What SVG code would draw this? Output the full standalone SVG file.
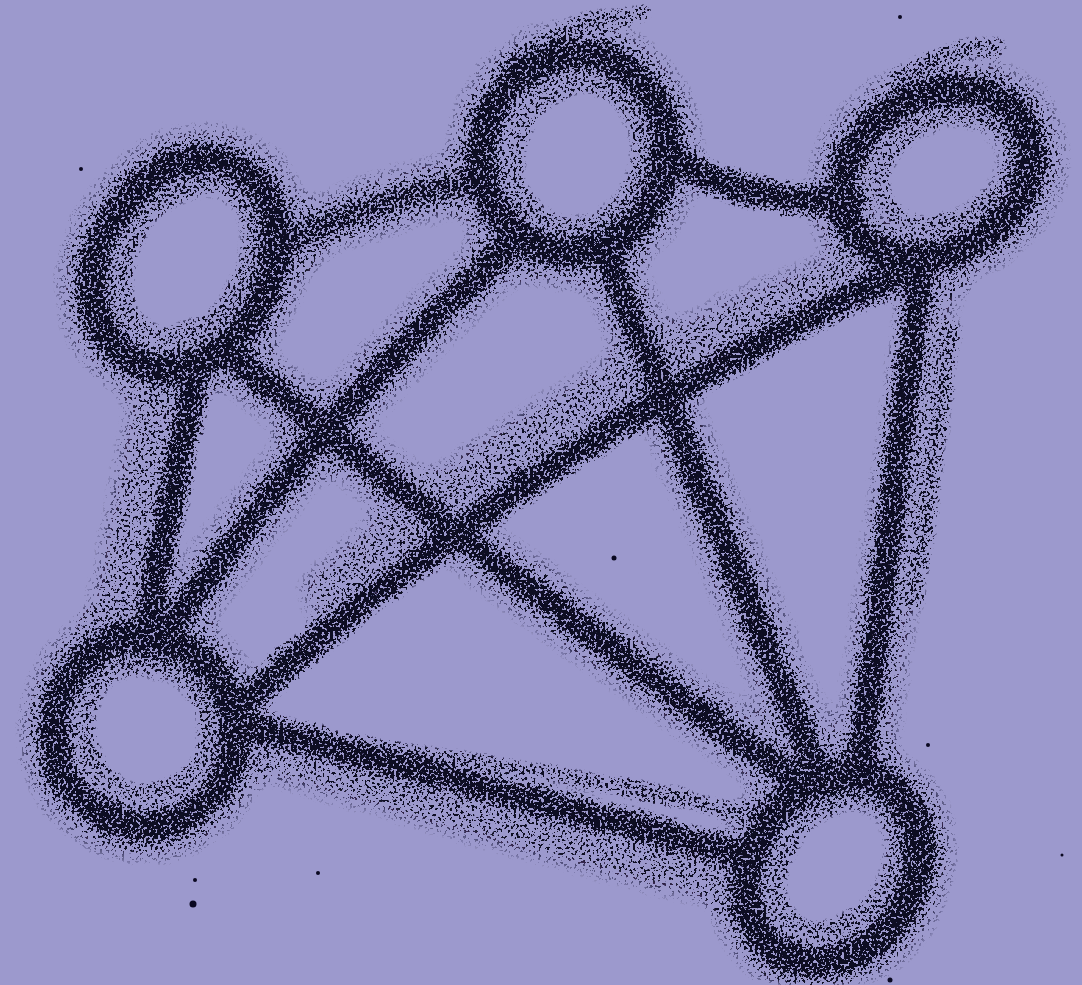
<svg xmlns="http://www.w3.org/2000/svg" xmlns:xlink="http://www.w3.org/1999/xlink" width="1082" height="985" viewBox="0 0 1082 985">
<defs>
<filter id="charcoal" filterUnits="userSpaceOnUse" x="0" y="0" width="1082" height="985">
<feTurbulence type="turbulence" baseFrequency="0.03" numOctaves="2" seed="4" result="warp"/>
<feDisplacementMap in="SourceAlpha" in2="warp" scale="8" xChannelSelector="R" yChannelSelector="G" result="wob"/>
<feGaussianBlur in="wob" stdDeviation="4.5" result="b"/>
<feTurbulence type="fractalNoise" baseFrequency="0.36" numOctaves="2" seed="9" result="n"/>
<feColorMatrix in="n" type="matrix" values="0 0 0 0 0  0 0 0 0 0  0 0 0 0 0  4 0 0 0 -1.5" result="na"/>
<feComposite in="b" in2="na" operator="arithmetic" k1="0" k2="1" k3="-1" k4="0.38" result="d"/>
<feComponentTransfer in="d" result="t"><feFuncA type="linear" slope="8" intercept="-3.5"/></feComponentTransfer>
<feFlood flood-color="#0a0820" result="c"/>
<feComposite in="c" in2="t" operator="in"/>
</filter>
<path id="h12" d="M290,238 Q380,195 478,178"/>
<path id="h14" d="M160,380 L110,640"/>
<path id="h24" d="M515,238 Q300,430 160,640"/>
<path id="h34" d="M880,262 Q560,380 330,590"/>
<path id="h45" d="M260,745 Q500,820 740,880"/>
<path id="h35" d="M930,280 L860,770"/>
<path id="h25" d="M608,262 L815,768"/>
<path id="h15" d="M235,358 Q480,560 800,782"/>
</defs>
<style>
.e{fill:none;stroke:#000;stroke-width:26;stroke-linecap:round}
.g1{fill:none;stroke:#000;stroke-width:28;stroke-linecap:round;opacity:0.1}
.g2{fill:none;stroke:#000;stroke-width:52;stroke-linecap:round;opacity:0.09}
.g3{fill:none;stroke:#000;stroke-width:78;stroke-linecap:round;opacity:0.08}
.r{fill:none;stroke:#000;stroke-width:30}
.r1{fill:none;stroke:#000;stroke-width:50;opacity:0.14}
.r2{fill:none;stroke:#000;stroke-width:80;opacity:0.1}
.ri{fill:none;stroke:#000;stroke-width:10;opacity:0.4}
.t{fill:none;stroke:#000;stroke-width:12;stroke-linecap:round;opacity:0.5}
</style>
<rect width="1082" height="985" fill="#9c99cd"/>
<g filter="url(#charcoal)">
<g id="connectors">
<use xlink:href="#h12" class="g1"/><use xlink:href="#h12" class="g2"/><use xlink:href="#h12" class="g3"/>
<use xlink:href="#h14" class="g1"/><use xlink:href="#h14" class="g2"/><use xlink:href="#h14" class="g3"/>
<use xlink:href="#h24" class="g1"/><use xlink:href="#h24" class="g2"/><use xlink:href="#h24" class="g3"/>
<use xlink:href="#h34" class="g1"/><use xlink:href="#h34" class="g2"/><use xlink:href="#h34" class="g3"/>
<use xlink:href="#h45" class="g1"/><use xlink:href="#h45" class="g2"/><use xlink:href="#h45" class="g3"/>
<use xlink:href="#h35" class="g2"/><use xlink:href="#h35" class="g3"/>
<use xlink:href="#h25" class="g2"/><use xlink:href="#h25" class="g3"/>
<use xlink:href="#h15" class="g2"/><use xlink:href="#h15" class="g3"/>
<path class="t" d="M300,738 Q520,760 745,812"/>
<path class="t" d="M948,330 L912,600" opacity="0.6"/>
<path class="e" d="M290,238 Q380,195 478,178" stroke-width="22" opacity="0.7"/>
<path class="e" d="M675,160 Q760,205 850,198" stroke-width="24"/>
<path class="e" d="M195,362 L142,640" stroke-width="24"/>
<path class="e" d="M235,358 Q480,560 800,782"/>
<path class="e" d="M515,238 Q300,430 160,640"/>
<path class="e" d="M608,262 L815,768"/>
<path class="e" d="M895,272 Q536,441 240,702"/>
<path class="e" d="M918,272 L858,768"/>
<path class="e" d="M248,725 Q500,790 748,855" stroke-width="28"/>
</g>
<g id="node1">
<ellipse class="r2" cx="183" cy="262" rx="85" ry="110" transform="rotate(30 183 262)"/>
<ellipse class="r1" cx="183" cy="262" rx="85" ry="110" transform="rotate(30 183 262)"/>
<ellipse class="r" cx="183" cy="262" rx="85" ry="110" transform="rotate(30 183 262)"/>
<ellipse class="ri" cx="186" cy="258" rx="58" ry="80" transform="rotate(30 186 258)"/>
</g>
<g id="node2">
<ellipse class="r2" cx="572" cy="152" rx="92" ry="100" transform="rotate(15 572 152)"/>
<ellipse class="r1" cx="572" cy="152" rx="92" ry="100" transform="rotate(15 572 152)"/>
<ellipse class="r" cx="572" cy="152" rx="92" ry="100" transform="rotate(15 572 152)"/>
<ellipse class="ri" cx="578" cy="155" rx="62" ry="72" transform="rotate(15 578 155)"/>
<path class="t" d="M500,70 Q560,20 640,12"/>
</g>
<g id="node3">
<ellipse class="r2" cx="935" cy="172" rx="100" ry="78" transform="rotate(-30 935 172)"/>
<ellipse class="r1" cx="935" cy="172" rx="100" ry="78" transform="rotate(-30 935 172)"/>
<ellipse class="r" cx="935" cy="172" rx="100" ry="78" transform="rotate(-30 935 172)"/>
<ellipse class="ri" cx="945" cy="168" rx="68" ry="50" transform="rotate(-30 945 168)"/>
<path class="t" d="M895,80 Q950,40 995,45"/>
</g>
<g id="node4">
<ellipse class="r2" cx="142" cy="730" rx="90" ry="95" transform="rotate(-15 142 730)"/>
<ellipse class="r1" cx="142" cy="730" rx="90" ry="95" transform="rotate(-15 142 730)"/>
<ellipse class="r" cx="142" cy="730" rx="90" ry="95" transform="rotate(-15 142 730)"/>
<ellipse class="ri" cx="145" cy="725" rx="60" ry="66" transform="rotate(-15 145 725)"/>
</g>
<g id="node5">
<ellipse class="r2" cx="831" cy="867" rx="80" ry="100" transform="rotate(35 831 867)"/>
<ellipse class="r1" cx="831" cy="867" rx="80" ry="100" transform="rotate(35 831 867)"/>
<ellipse class="r" cx="831" cy="867" rx="80" ry="100" transform="rotate(35 831 867)"/>
<ellipse class="ri" cx="836" cy="862" rx="52" ry="72" transform="rotate(35 836 862)"/>
</g>
</g>
<g fill="#0a0820">
<circle cx="193" cy="904" r="3.5"/>
<circle cx="195" cy="880" r="2"/>
<circle cx="318" cy="873" r="2"/>
<circle cx="614" cy="558" r="2.5"/>
<circle cx="928" cy="745" r="2"/>
<circle cx="890" cy="980" r="2.5"/>
<circle cx="81" cy="169" r="2"/>
<circle cx="1062" cy="855" r="1.5"/>
<circle cx="900" cy="17" r="2"/>
</g>
</svg>
